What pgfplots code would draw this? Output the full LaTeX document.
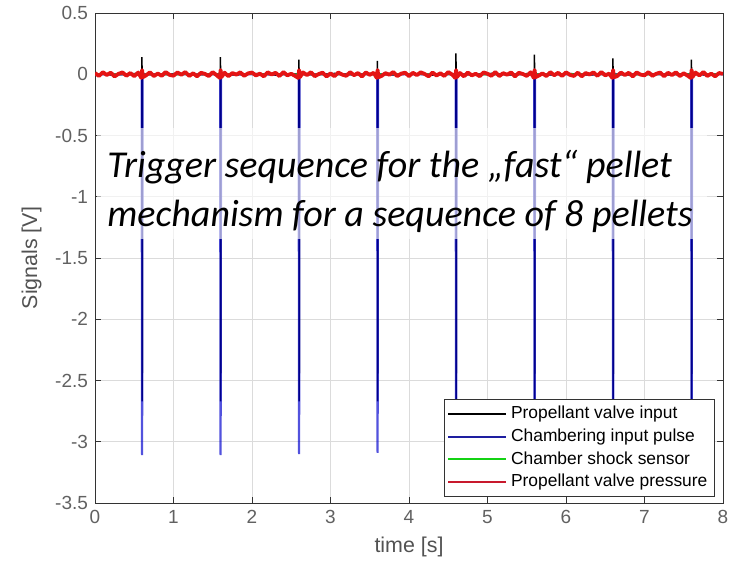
\documentclass[border=0pt]{standalone}
\usepackage{fontspec}
\setmainfont{Liberation Sans}
\newfontfamily\calib{Carlito}
\usepackage{pgfplots}
\pgfplotsset{compat=1.18}
\definecolor{mred}{RGB}{228,20,20}
\definecolor{mblue}{RGB}{0,0,205}
\definecolor{shockgreen}{RGB}{20,210,20}
\definecolor{legred}{RGB}{200,25,45}
\definecolor{legblue}{RGB}{30,30,160}
\begin{document}
\begin{tikzpicture}
\begin{axis}[name=ax, scale only axis, width=314pt, height=245pt,
  xmin=0, xmax=8, ymin=-3.5, ymax=0.5,
  xtick={0,1,2,3,4,5,6,7,8},
  ytick={-3.5,-3,-2.5,-2,-1.5,-1,-0.5,0,0.5},
  grid=major, major grid style={black!14, line width=0.4pt},
  tick align=inside, tick pos=both, major tick length=3pt,
  tick style={black!80, line width=0.5pt},
  axis line style={black!80, line width=0.5pt},
  /pgf/number format/assume math mode=true,
  ticklabel style={font=\fontsize{9.5}{11}\selectfont, text=black!62},
  xlabel={time [s]}, ylabel={Signals [V]},
  label style={font=\fontsize{10.7}{12}\selectfont, text=black!68},
  legend cell align=left,
  legend style={at={(0.987,0.012)}, anchor=south east, draw=black!80,
    font=\fontsize{8.7}{10}\selectfont, row sep=-0.5pt, inner sep=1.5pt},
  legend image code/.code={\draw[#1] (0pt,0pt) -- (29pt,0pt);},
]
% Propellant valve input (black)
\addplot[black, line width=0.8pt, forget plot] coordinates {
(0,0.004) (0.25,-0.006) (0.5,0.005) (0.596,0) (0.598,0.14) (0.601,-2.67) (0.604,0) (0.8,-0.004)
(1.05,0.006) (1.3,-0.005) (1.5,0.004) (1.596,0) (1.598,0.14) (1.601,-2.67) (1.604,0) (1.8,-0.005)
(2.05,0.005) (2.3,-0.006) (2.5,0.004) (2.596,0) (2.598,0.12) (2.601,-2.67) (2.604,0) (2.8,-0.004)
(3.05,0.006) (3.3,-0.005) (3.5,0.004) (3.596,0) (3.598,0.11) (3.601,-2.67) (3.604,0) (3.8,-0.005)
(4.05,0.005) (4.3,-0.006) (4.5,0.004) (4.596,0) (4.598,0.17) (4.601,-2.67) (4.604,0) (4.8,-0.004)
(5.05,0.006) (5.3,-0.005) (5.5,0.004) (5.596,0) (5.598,0.16) (5.601,-2.67) (5.604,0) (5.8,-0.005)
(6.05,0.005) (6.3,-0.006) (6.5,0.004) (6.596,0) (6.598,0.13) (6.601,-2.67) (6.604,0) (6.8,-0.004)
(7.05,0.006) (7.3,-0.005) (7.5,0.004) (7.596,0) (7.598,0.12) (7.601,-2.67) (7.604,0) (7.8,-0.005)
(8,0.003)
};
% Chambering input pulse (blue)
\addplot[mblue, line width=1.1pt, opacity=0.68, forget plot] coordinates {
(0,0) (0.594,0) (0.600,-3.11) (0.606,0)
(1.594,0) (1.600,-3.11) (1.606,0)
(2.594,0) (2.600,-3.10) (2.606,0)
(3.594,0) (3.600,-3.09) (3.606,0)
(4.594,0) (4.600,-3.10) (4.606,0)
(5.594,0) (5.600,-3.10) (5.606,0)
(6.594,0) (6.600,-3.10) (6.606,0)
(7.594,0) (7.600,-3.10) (7.606,0) (8,0)
};
% Chamber shock sensor (green)
\addplot[shockgreen, line width=0.8pt, forget plot] coordinates {
(0,0.002) (1,-0.002) (2,0.002) (3,-0.002) (4,0.002) (5,-0.002) (6,0.002) (7,-0.002) (8,0.002)
};
% Propellant valve pressure (red)
\addplot[mred, line width=1.9pt, line join=round, forget plot] coordinates {
(0.00,0.010) (0.05,-0.014) (0.10,0.017) (0.15,-0.006) (0.20,0.013) (0.25,-0.018) (0.30,0.004) (0.35,0.015) (0.40,-0.012) (0.45,0.010) (0.50,-0.016) (0.55,0.014) (0.59,-0.030) (0.60,0.034) (0.61,-0.024) (0.65,-0.009) (0.70,0.016) (0.75,-0.015) (0.80,0.006) (0.85,-0.013) (0.90,0.018) (0.95,-0.005)
(1.00,-0.012) (1.05,0.015) (1.10,-0.004) (1.15,0.018) (1.20,-0.014) (1.25,0.008) (1.30,-0.017) (1.35,0.012) (1.40,0.003) (1.45,-0.015) (1.50,0.017) (1.55,-0.008) (1.59,-0.030) (1.60,0.034) (1.61,-0.024) (1.65,0.013) (1.70,-0.016) (1.75,0.010) (1.80,-0.003) (1.85,0.016) (1.90,-0.013) (1.95,0.007)
(2.00,0.014) (2.05,-0.010) (2.10,0.005) (2.15,-0.017) (2.20,0.016) (2.25,-0.002) (2.30,0.012) (2.35,-0.015) (2.40,0.018) (2.45,-0.009) (2.50,0.004) (2.55,-0.014) (2.59,-0.030) (2.60,0.034) (2.61,-0.024) (2.65,0.015) (2.70,-0.007) (2.75,0.017) (2.80,-0.016) (2.85,0.002) (2.90,0.013) (2.95,-0.018)
(3.00,0.007) (3.05,-0.016) (3.10,0.014) (3.15,-0.003) (3.20,-0.013) (3.25,0.017) (3.30,-0.008) (3.35,0.010) (3.40,-0.018) (3.45,0.015) (3.50,-0.005) (3.55,0.012) (3.59,-0.030) (3.60,0.034) (3.61,-0.024) (3.65,-0.014) (3.70,0.009) (3.75,-0.004) (3.80,0.018) (3.85,-0.015) (3.90,0.005) (3.95,0.013)
(4.00,-0.015) (4.05,0.012) (4.10,-0.007) (4.15,0.016) (4.20,0.002) (4.25,-0.017) (4.30,0.014) (4.35,-0.010) (4.40,0.008) (4.45,-0.014) (4.50,0.018) (4.55,-0.003) (4.59,-0.030) (4.60,0.034) (4.61,-0.024) (4.65,0.010) (4.70,-0.017) (4.75,0.014) (4.80,-0.009) (4.85,0.004) (4.90,-0.016) (4.95,0.015)
(5.00,0.004) (5.05,-0.013) (5.10,0.018) (5.15,-0.015) (5.20,0.009) (5.25,-0.004) (5.30,0.015) (5.35,-0.018) (5.40,0.012) (5.45,0.002) (5.50,-0.014) (5.55,0.016) (5.59,-0.030) (5.60,0.034) (5.61,-0.024) (5.65,-0.012) (5.70,0.007) (5.75,-0.015) (5.80,0.017) (5.85,-0.008) (5.90,0.012) (5.95,-0.014)
(6.00,0.016) (6.05,-0.005) (6.10,-0.014) (6.15,0.013) (6.20,-0.017) (6.25,0.010) (6.30,-0.002) (6.35,0.015) (6.40,-0.013) (6.45,0.018) (6.50,-0.009) (6.55,0.005) (6.59,-0.030) (6.60,0.034) (6.61,-0.024) (6.65,-0.016) (6.70,0.014) (6.75,-0.007) (6.80,0.012) (6.85,-0.018) (6.90,0.015) (6.95,-0.003)
(7.00,-0.009) (7.05,0.017) (7.10,-0.013) (7.15,0.004) (7.20,0.014) (7.25,-0.016) (7.30,0.012) (7.35,-0.007) (7.40,0.016) (7.45,-0.015) (7.50,0.008) (7.55,-0.012) (7.59,-0.030) (7.60,0.034) (7.61,-0.024) (7.65,0.014) (7.70,-0.010) (7.75,0.018) (7.80,-0.014) (7.85,0.005) (7.90,-0.017) (7.95,0.010)
(8.00,0.003)
};
\addlegendimage{color=black, line width=0.7pt}
\addlegendentry{Propellant valve input}
\addlegendimage{color=legblue, line width=0.8pt}
\addlegendentry{Chambering input pulse}
\addlegendimage{color=shockgreen, line width=0.9pt}
\addlegendentry{Chamber shock sensor}
\addlegendimage{color=legred, line width=0.8pt}
\addlegendentry{Propellant valve pressure}
% overlay text box
\fill[white, fill opacity=0.62] (axis cs:0.03,-0.44) rectangle (axis cs:7.8,-1.345);
\node[anchor=base west, inner sep=0pt, font=\calib\itshape\fontsize{19}{24}\selectfont] at (axis cs:0.153,-0.839) {Trigger sequence for the „fast“ pellet};
\node[anchor=base west, inner sep=0pt, font=\calib\itshape\fontsize{19}{24}\selectfont] at (axis cs:0.153,-1.239) {mechanism for a sequence of 8 pellets};
\end{axis}
\pgfresetboundingbox
\path ([xshift=-47.5pt,yshift=-32pt]ax.south west) rectangle ([xshift=11pt,yshift=6.5pt]ax.north east);
\end{tikzpicture}
\end{document}
